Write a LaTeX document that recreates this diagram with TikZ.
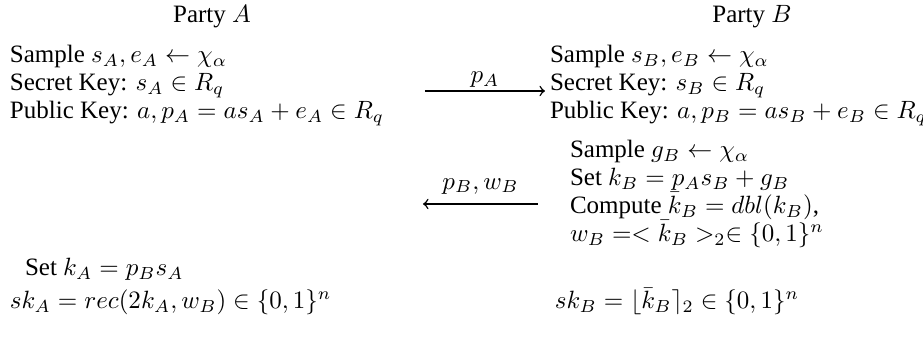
\documentclass[tikz,border=0pt]{standalone}
\usepackage{fontspec}
\setmainfont{Liberation Serif}
\usetikzlibrary{positioning}
\begin{document}
\begin{tikzpicture}[x=0.4pt, y=-0.4pt, >=to,
    every node/.style={inner sep=0pt, outer sep=0pt, font=\fontsize{10}{11.2}\selectfont},
    steps/.style={align=left, anchor=north west},
    msg/.style={->, semithick}]
    \useasboundingbox (0,0) rectangle (923,338);

    % The two parties
    \node[anchor=base] (partyA) at (212,23) {Party $A$};
    \node[anchor=base] (partyB) at (752,23) {Party $B$};

    % Key generation on both sides
    \node[steps] (keyA) at (10,45) {Sample $s_A, e_A \leftarrow \chi_\alpha$\\
        Secret Key: $s_A \in R_q$\\
        Public Key: $a, p_A = a s_A + e_A \in R_q$};
    \node[steps] (keyB) at (550,45) {Sample $s_B, e_B \leftarrow \chi_\alpha$\\
        Secret Key: $s_B \in R_q$\\
        Public Key: $a, p_B = a s_B + e_B \in R_q$};

    % A sends p_A
    \coordinate (pAtail) at (425,91);
    \draw[msg] (pAtail) -- node[above=1.5pt] {$p_A$} ([xshift=-2pt]pAtail -| keyB.west);

    % B computes its key and the hint
    \node[steps] (hintB) at (570,140) {Sample $g_B \leftarrow \chi_\alpha$\\
        Set $k_B = p_A s_B + g_B$\\
        Compute $\bar{k}_B = dbl(k_B)$,\\
        $w_B =< \bar{k}_B >_2 \in \{0,1\}^n$};

    % B sends p_B, w_B back
    \coordinate (wBtail) at (538,204);
    \coordinate (wBhead) at (423,204);
    \draw[msg] (wBtail) -- node[above=4pt] {$p_B, w_B$} (wBhead);

    % Shared keys
    \node[anchor=base west] (setA) at (25,276) {Set $k_A = p_B s_A$};
    \node[anchor=base west] (skA) at (10,309) {$sk_A = rec(2k_A, w_B) \in \{0,1\}^n$};
    \node[anchor=base west] (skB) at (555,309) {$sk_B = \lfloor \bar{k}_B \rceil_2 \in \{0,1\}^n$};
\end{tikzpicture}
\end{document}
